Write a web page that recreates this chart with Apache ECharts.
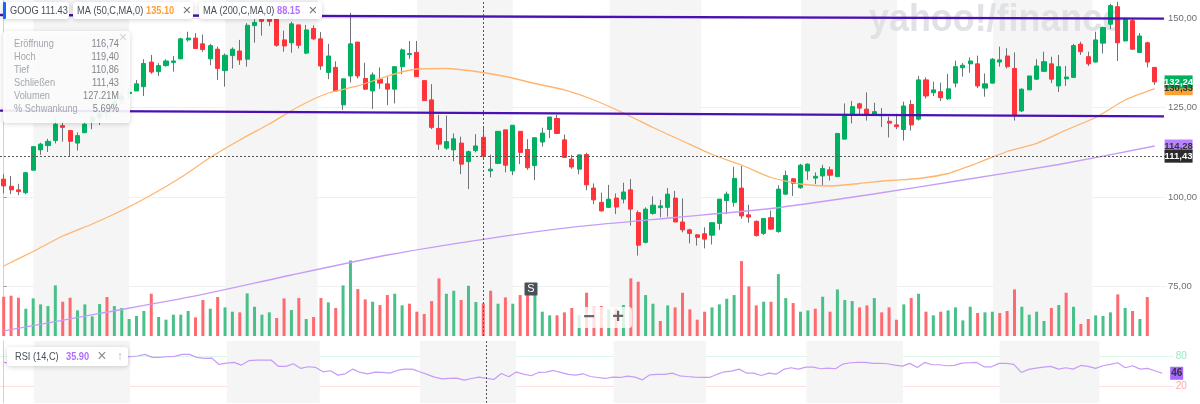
<!DOCTYPE html>
<html><head><meta charset="utf-8">
<style>html,body{margin:0;padding:0;background:#fff}#c{width:1200px;height:404px}</style>
<script src="https://cdn.jsdelivr.net/npm/echarts@6/dist/echarts.min.js"></script>
</head><body><div id="c"></div>
<script>
const opens=[105.0,103.0,102.0,101.2,107.5,113.2,114.4,115.8,120.0,118.6,
115.1,118.0,121.1,122.2,123.8,125.5,127.2,129.0,129.7,130.9,
137.8,135.1,136.8,137.7,138.7,144.0,144.5,142.9,138.7,141.4,
135.4,139.6,140.9,138.6,148.0,149.8,149.8,149.8,144.0,143.2,
148.2,140.3,147.2,144.3,134.9,136.3,125.8,133.9,143.4,133.2,
129.7,133.0,131.7,130.2,136.5,139.9,140.5,132.6,127.2,119.2,
113.7,113.2,115.1,109.9,113.0,116.74,107.3,109.4,118.8,107.3,
118.4,113.3,108.8,115.4,118.9,122.0,116.0,110.6,107.8,111.9,
102.5,98.5,97.1,99.7,99.4,102.0,95.6,87.3,95.4,97.0,
97.1,99.7,93.0,90.8,89.4,89.7,89.3,92.6,99.0,98.5,
102.5,95.0,93.2,89.8,94.2,90.3,100.8,105.1,102.6,107.3,
105.3,105.9,107.6,105.7,116.2,123.1,126.1,124.6,123.2,122.8,
121.2,120.2,118.9,125.9,121.8,132.8,129.2,129.5,127.5,131.9,
136.2,137.3,137.3,130.5,131.9,137.8,139.5,136.0,124.1,130.0,
133.0,135.2,137.3,131.1,133.1,133.5,142.8,139.3,137.8,143.1,
148.4,153.3,143.7,149.4,140.5,143.2,136.3];
const closes=[103.1,102.0,101.5,106.8,114.1,114.8,115.6,120.4,119.5,115.6,
117.2,120.4,122.3,123.4,124.9,126.7,128.3,129.3,131.7,137.4,
135.0,136.8,138.1,138.1,144.3,144.5,141.6,141.3,142.4,136.0,
139.7,141.4,138.4,148.1,148.9,149.2,149.2,142.5,142.3,148.5,
142.5,146.8,144.3,136.7,139.5,129.7,133.1,142.9,133.9,130.2,
134.2,131.9,130.2,136.5,141.2,140.2,133.7,127.0,119.5,114.8,
115.5,116.3,109.2,112.7,114.3,111.43,107.8,118.4,108.9,120.1,
112.5,108.2,116.6,117.9,122.4,117.8,111.1,108.4,111.8,103.4,
99.2,96.1,99.4,97.2,101.4,96.6,86.5,96.6,97.7,97.5,
100.8,93.0,90.8,89.8,88.7,88.2,92.8,99.4,100.8,105.2,
94.7,94.4,89.2,94.0,91.0,102.2,106.0,103.8,108.9,109.2,
105.8,108.0,106.1,117.8,122.8,125.3,124.9,123.2,123.9,123.1,
120.7,119.7,125.5,120.2,132.8,128.3,130.0,127.8,130.3,136.5,
136.9,138.1,131.1,131.7,138.6,138.4,136.5,123.0,130.2,133.9,
136.7,137.9,133.0,136.5,133.6,142.4,140.7,137.3,144.0,147.5,
153.6,143.2,149.8,141.4,145.1,137.8,132.24];
const highs=[106.4,105.9,103.7,107.0,114.1,115.2,116.3,122.1,121.1,118.8,
118.1,120.8,123.0,123.8,125.8,127.7,129.4,130.5,132.8,138.6,
139.8,137.5,138.6,139.5,144.6,146.3,145.9,145.5,142.9,142.1,
140.2,141.9,144.0,148.7,149.8,151.0,150.7,151.0,146.6,149.1,
148.2,148.2,148.1,146.2,142.9,138.0,133.1,151.6,143.4,137.6,
134.9,136.3,133.7,136.5,141.6,143.7,143.7,132.6,131.6,123.0,
122.8,117.8,116.9,113.0,117.6,119.40,111.8,118.4,118.8,120.1,
118.4,116.2,116.6,119.4,122.4,123.0,117.5,111.8,111.8,112.4,
103.8,101.2,103.4,101.0,104.0,105.0,96.2,97.1,100.2,99.2,
102.5,101.7,99.6,91.1,89.6,91.5,92.8,99.4,101.5,108.5,
108.7,97.8,93.4,94.0,96.2,103.3,107.4,105.3,109.3,109.4,
106.9,109.0,108.5,117.8,126.2,126.9,126.4,129.3,126.4,124.9,
122.5,123.3,126.7,127.2,133.9,133.5,132.3,132.0,134.5,138.2,
137.5,139.1,139.6,134.6,138.9,142.1,141.7,140.5,130.4,133.9,
138.6,140.7,139.3,139.8,136.7,142.9,143.5,140.7,146.3,147.7,
154.1,154.7,150.3,150.1,145.9,143.5,136.3];
const lows=[101.0,100.8,100.5,100.8,107.5,111.8,112.6,115.0,115.5,111.3,
113.0,117.9,119.0,120.2,122.1,123.8,126.1,127.7,129.7,128.3,
134.5,133.9,136.5,135.1,138.6,143.5,141.4,140.7,136.9,132.8,
130.9,136.0,137.0,136.5,143.2,145.2,147.9,142.1,140.7,140.4,
141.6,140.0,144.0,135.6,133.0,129.5,124.4,132.1,133.2,130.0,
124.7,130.3,125.7,126.2,134.4,138.7,133.7,127.0,119.0,113.2,
113.2,110.0,106.4,102.2,112.5,110.86,105.5,109.2,106.9,106.1,
109.2,107.6,104.7,114.1,116.5,117.6,111.1,107.9,106.4,101.9,
98.0,95.9,96.9,95.2,98.2,92.0,83.6,87.0,95.0,94.3,
94.5,93.0,90.1,87.0,86.4,85.6,86.7,90.8,95.2,97.3,
93.9,92.8,88.9,89.4,90.8,90.0,100.6,100.3,102.3,104.8,
103.6,103.3,104.6,105.7,116.2,120.6,123.2,121.4,123.0,119.6,
116.7,119.0,115.8,118.6,121.4,127.6,128.3,126.9,127.2,130.7,
133.7,134.8,130.5,128.1,131.8,136.5,136.0,121.4,123.8,130.0,
132.8,135.0,131.9,129.4,131.1,133.4,139.8,136.7,137.7,140.2,
147.0,138.1,143.6,141.2,140.4,136.3,131.4];
const volumes=[153.2,157.1,149.3,106.4,146.7,123.3,116.8,197.3,133.7,149.3,
99.9,123.3,76.6,124.6,151.9,116.8,109,66.2,77.9,97.4,
164.8,74,63.6,83.1,83.1,97.4,72.7,140.2,106.4,151.9,
111.6,94.8,92.2,166.1,114.2,83.1,92.2,70.1,146.7,101.2,
148,66.2,74,148,131.1,109,197.3,294.6,183,142.8,
133.7,120.7,159.7,164.8,119.4,125.9,94.8,85.7,136.3,224.6,
164.8,176.5,140.2,196,132.4,127.21,176.5,125.9,150.6,125.9,
159.7,162.3,162.3,94.8,80.5,80.5,92.2,109,81.8,168.7,
114.2,116.8,103.8,106.4,120.7,224.6,211.6,159.7,125.9,58.4,
119.4,111.6,168.7,103.8,63.6,94.8,111.6,123.3,145.4,159.7,
292.1,193.4,119.4,133.7,133.7,241.4,148,128.5,94.8,99.9,
106.4,153.2,94.8,181.7,140.2,136.3,111.6,119.4,148,92.2,
111.6,63.6,123.3,148,164.8,94.8,80.5,94.8,99.9,111.6,
61,114.2,89.6,92.2,94.8,89.6,97.4,181.7,114.2,83.1,
94.8,58.4,109,120.7,168.7,114.2,46.7,66.2,80.5,77.9,
92.2,162.3,109,97.4,66.2,151.9];
const volumeDownDays=[0,1,2,8,9,14,20,26,27,29,32,37,38,40,42,43,45,48,49,51,52,55,56,57,58,59,62,65,66,68,70,71,75,76,77,79,80,81,83,85,86,89,91,92,93,94,95,100,101,102,104,107,110,112,116,117,119,120,121,123,125,127,132,135,136,137,142,144,146,147,151,153,155];
const ma50Days=[0,4,8,12,16,20,24,28,32,36,40,44,48,52,56,60,64,68,72,76,80,84,88,92,96,100,104,108,112,116,120,124,128,132,136,140,144,148,152,156];
const ma50=[80.67,84.73,89.08,92.44,96.22,100.56,105.46,111.06,115.97,120.45,125.35,129.13,131.09,133.89,135.85,135.99,135.15,133.75,131.79,129.97,127.17,123.53,119.47,115.69,111.9,108.96,105.46,103.64,103.08,103.78,104.62,105.18,106.58,109.52,112.74,115.04,118.77,122.27,127.17,130.33];
const ma200Days=[0,13,26,39,52,65,78,91,104,117,130,143,156];
const ma200=[62.47,67.37,72.27,78.15,83.75,88.15,91.74,94.26,96.78,100.56,104.76,109.1,114.28];
const rsi=[67.9,65.9,null,null,null,null,null,null,null,null,null,null,null,null,null,null,null,79.3,80.7,84,
78,78,79.3,80,84,84,78,76,76.6,63.8,
66.5,67.9,62.5,71.3,72.6,72.6,72.6,59.8,59.8,65.2,
55.8,59.1,57.8,49,51.1,42.3,45,54.4,47.7,45,
48.4,47.7,46.4,51.7,54.4,54.4,49,43.7,38.3,34.9,
35.6,36.3,32.2,35.6,38.3,35.9,33.6,45.7,39,48.4,
44.3,41,47.7,48.4,51.7,47.7,43.7,42.3,45,39.6,
37.6,35.6,38.3,37.6,40.3,38.3,32.9,43,43.7,43.7,
46.4,41,39.6,38.3,37.6,37.6,43.7,49,50.4,54.4,
46.4,46.4,41.6,46.4,44.3,53.8,57.1,54.4,58.5,58.5,
55.1,56.4,55.1,64.5,67.2,67.9,67.9,65.9,65.9,65.2,
62.5,60.5,65.9,57.8,67.9,63.2,63.2,61.2,61.8,66.5,
67.2,67.9,59.1,59.1,65.9,65.9,63.8,47.7,53.8,56.4,
58.5,59.8,54.4,57.1,54.4,61.8,59.8,55.8,61.2,63.8,
67.2,57.1,61.2,54.4,55.8,51.1,46];
const bandStarts=[4.03,30.04,56.04,82.13,108.08,134.08];
const bandEnds=[17.0,42.55,68.99,94.54,121.09,147.53];
const trendUpperPrices=[150.98,149.97];
const trendLowerPrices=[124.2,122.58];
const priceTicks=[75,100,125,150];
const rsiTicks=[20,80];
const cursorDay=65, cursorClose=111.43;
const tooltipLabels=['Eröffnung','Hoch','Tief','Schließen','Volumen','% Schwankung'];
const tooltipValues=['116,74','119,40','110,86','111,43','127.21M','5.69%'];
const legendTexts=['GOOG','111.43','MA (50,C,MA,0)','135.10','MA (200,C,MA,0)','88.15','RSI (14,C)','35.90'];

const SANS='"Liberation Sans",Roboto,sans-serif';
const UP='#00b061', DOWN='#ff333a', WICK='#6f7379', INDIGO='#4a10b4';
const xMin=-0.5, xMax=157.5, xEdge=157.26;
const fmt=v=>v.toFixed(2).replace('.',',');
const days=opens.map((_,i)=>i);
const slots=days.concat([157]).map(String);
const downSet=new Set(volumeDownDays);

const bandData=bandStarts.map((s,i)=>[{xAxis:s,itemStyle:{color:'#f5f5f5'}},{xAxis:bandEnds[i]}]);
const cursorStyle={type:[2,2],color:'#555',width:1};
function tag(v,bg,fg){return {coord:[xEdge,v],value:v,symbol:'rect',symbolSize:[28,13],symbolOffset:[14.6,0],
 itemStyle:{color:bg,borderRadius:2},
 label:{show:true,position:'inside',formatter:fmt(v),color:fg,fontFamily:SANS,fontSize:9.5,fontWeight:'bold'}};}

const g=[];
function box(x,y,w,h,fill,shadow,r,z){g.push({type:'rect',z:z||100,shape:{x,y,width:w,height:h,r:r==null?3:r},silent:true,
 style:Object.assign({fill},shadow?{shadowBlur:5,shadowColor:'rgba(0,0,0,.18)',shadowOffsetY:1}:{})});}
function txt(x,y,t,o){o=o||{};g.push({type:'text',z:o.z||101,x,y,scaleX:o.sx||0.84,silent:true,style:{text:t,fill:o.color||'#464e56',
 font:(o.weight||'normal')+' '+(o.size||11)+'px '+SANS,textAlign:o.align||'left',textVerticalAlign:'middle'}});}
// watermark
g.push({type:'text',z:1,x:869,y:20,scaleX:0.92,silent:true,style:{text:'yahoo!/finance',fill:'#e1e2e6',font:'bold 39px '+SANS,textVerticalAlign:'middle'}});
// legend chips
box(3,2,66,17,'#fff',true);box(3,2,3,17,'#0f69ff',false,1,102);
txt(10,10.5,legendTexts[0]);txt(41,10.5,legendTexts[1]);
box(73,2,120,17,'#fff',true);txt(77,10.5,legendTexts[2]);txt(146,10.5,legendTexts[3],{color:'#ffa033',weight:'bold'});txt(187,10.5,'×',{size:15,color:'#777',align:'center',sx:1});
box(199,2,123,17,'#fff',true);txt(203,10.5,legendTexts[4]);txt(277,10.5,legendTexts[5],{color:'#b070ff',weight:'bold'});txt(313,10.5,'×',{size:15,color:'#777',align:'center',sx:1});
// tooltip card
box(3,31,127,92,'rgba(255,255,255,.9)',true);
tooltipLabels.forEach((t,i)=>{const y=43.7+i*13;txt(14,y,t,{color:'#a2a7ad'});txt(119,y,tooltipValues[i],{color:'#80868c',align:'right'});});
txt(123,38,'×',{size:14,color:'#cfd2d6',align:'center',sx:1});
// RSI chip
box(7,347,121,19,'#fff',true);txt(15,356.5,legendTexts[6]);txt(66,356.5,legendTexts[7],{color:'#b070ff',weight:'bold'});
txt(102,356.5,'×',{size:16,color:'#8b8f94',align:'center',sx:1});txt(120,356.5,'↑',{size:13,color:'#b5b8bc',align:'center',sx:1});
// S marker, zoom control
box(524.5,282.5,13,13,'#4a5058',false,1,20);txt(531,289.3,'S',{size:11,color:'#fff',align:'center',sx:1,z:21});
box(574,307,58,21,'rgba(255,255,255,.8)',false,3,30);
txt(589,317.5,'−',{size:20,weight:'bold',color:'#666',align:'center',sx:1,z:31});txt(618,317.5,'+',{size:20,weight:'bold',color:'#666',align:'center',sx:1,z:31});

const PLOT={left:-1.418,width:1174.9};
const option={
 animation:false,backgroundColor:'#fff',
 grid:[Object.assign({top:0,height:336},PLOT),Object.assign({top:341,height:62},PLOT)],
 xAxis:[
  {type:'category',gridIndex:0,data:slots,show:false,boundaryGap:true},
  {type:'value',gridIndex:0,min:xMin,max:xMax,show:false},
  {type:'value',gridIndex:1,min:xMin,max:xMax,show:false}
 ],
 yAxis:[
  {type:'value',gridIndex:0,position:'right',offset:-1.8,min:61.06,max:155.18,
   axisLine:{show:true,lineStyle:{color:'#cfd2d6',width:1}},
   axisTick:{show:true,length:3,lineStyle:{color:'#999'},customValues:priceTicks},
   splitLine:{show:true,lineStyle:{color:'#f0f0f0',width:1}},
   axisLabel:{customValues:priceTicks,formatter:fmt,color:'#6b7076',fontFamily:SANS,fontSize:9.5,margin:4}},
  {type:'value',gridIndex:0,position:'right',min:0,max:1310.4,show:false,splitLine:{show:false}},
  {type:'value',gridIndex:1,position:'right',offset:-1.8,min:-13.7,max:110.9,
   axisLine:{show:true,lineStyle:{color:'#cfd2d6',width:1}},
   axisTick:{show:false,customValues:rsiTicks},
   splitLine:{show:true,lineStyle:{color:['#ffe0e0','#dcf7ea'],width:1}},
   axisLabel:{customValues:rsiTicks,formatter:v=>String(v),color:v=>v>50?'#9fe6c4':'#ffa6a6',fontFamily:SANS,fontSize:10,margin:4}}
 ],
 graphic:{elements:g},
 series:[
  {type:'line',name:'bands',z:0,xAxisIndex:1,yAxisIndex:0,data:[],silent:true,markArea:{z:0,silent:true,data:bandData}},
  {type:'line',name:'bandsRsi',z:0,xAxisIndex:2,yAxisIndex:2,data:[],silent:true,markArea:{z:0,silent:true,data:bandData}},
  {type:'bar',name:'Volumen',z:2,xAxisIndex:0,yAxisIndex:1,barWidth:3,
   data:volumes.map((v,i)=>({value:v,itemStyle:{color:downSet.has(i)?'#ff6a70':'#49c08a'}}))},
  {type:'candlestick',name:'Wicks',z:3,xAxisIndex:0,yAxisIndex:0,barWidth:1,
   itemStyle:{color:WICK,color0:WICK,borderColor:WICK,borderColor0:WICK,borderWidth:1},
   data:days.map(i=>[opens[i],closes[i],lows[i],highs[i]])},
  {type:'candlestick',name:'GOOG',z:4,xAxisIndex:0,yAxisIndex:0,barWidth:4.6,
   itemStyle:{color:UP,color0:DOWN,borderColor:UP,borderColor0:DOWN,borderWidth:1},
   data:days.map(i=>{const lo=Math.min(opens[i],closes[i]),hi=Math.max(opens[i],closes[i]);return [opens[i],closes[i],lo,hi];})},
  {type:'line',name:'MA50',z:5,xAxisIndex:1,yAxisIndex:0,showSymbol:false,smooth:0.2,lineStyle:{color:'#ffb56e',width:1.3},
   data:ma50Days.map((d,i)=>[d,ma50[i]])},
  {type:'line',name:'MA200',z:5,xAxisIndex:1,yAxisIndex:0,showSymbol:false,smooth:0.2,lineStyle:{color:'#c79cf8',width:1.3},
   data:ma200Days.map((d,i)=>[d,ma200[i]])},
  {type:'line',name:'TrendUpper',z:6,xAxisIndex:1,yAxisIndex:0,showSymbol:false,lineStyle:{color:INDIGO,width:2.4},
   data:[[xMin,trendUpperPrices[0]],[xEdge,trendUpperPrices[1]]]},
  {type:'line',name:'TrendLower',z:6,xAxisIndex:1,yAxisIndex:0,showSymbol:false,lineStyle:{color:INDIGO,width:2.4},
   data:[[xMin,trendLowerPrices[0]],[xEdge,trendLowerPrices[1]]]},
  {type:'line',name:'RSI',z:5,xAxisIndex:2,yAxisIndex:2,showSymbol:false,connectNulls:true,lineStyle:{color:'#c79cf8',width:1.2},
   data:rsi.map((v,i)=>[i,v])},
  {type:'line',name:'cursor',z:7,xAxisIndex:1,yAxisIndex:0,data:[],silent:true,
   markLine:{z:7,silent:true,symbol:'none',label:{show:false},lineStyle:cursorStyle,animation:false,data:[{xAxis:cursorDay},{yAxis:cursorClose}]}},
  {type:'line',name:'cursorRsi',z:7,xAxisIndex:2,yAxisIndex:2,data:[],silent:true,
   markLine:{z:7,silent:true,symbol:'none',label:{show:false},lineStyle:cursorStyle,animation:false,data:[{xAxis:cursorDay}]}},
  {type:'line',name:'priceTags',z:8,xAxisIndex:1,yAxisIndex:0,data:[],silent:true,
   markPoint:{z:9,silent:true,animation:false,data:[
     tag(ma50[ma50.length-1],'#ffa033','#333'),tag(closes[closes.length-1],UP,'#fff'),
     tag(ma200[ma200.length-1],'#b884ff','#333'),tag(cursorClose,'#2b2b2b','#fff')]}},
  {type:'line',name:'rsiTag',z:8,xAxisIndex:2,yAxisIndex:2,data:[],silent:true,
   markPoint:{z:9,silent:true,animation:false,data:[Object.assign(tag(46,'#a868ff','#333'),{symbolSize:[13,13],symbolOffset:[5,0],label:{show:true,position:'inside',formatter:'46',color:'#333',fontFamily:SANS,fontSize:10,fontWeight:'bold'}})]}}
 ]
};
const chart=echarts.init(document.getElementById('c'),null,{width:1200,height:404});
chart.setOption(option);
</script></body></html>
